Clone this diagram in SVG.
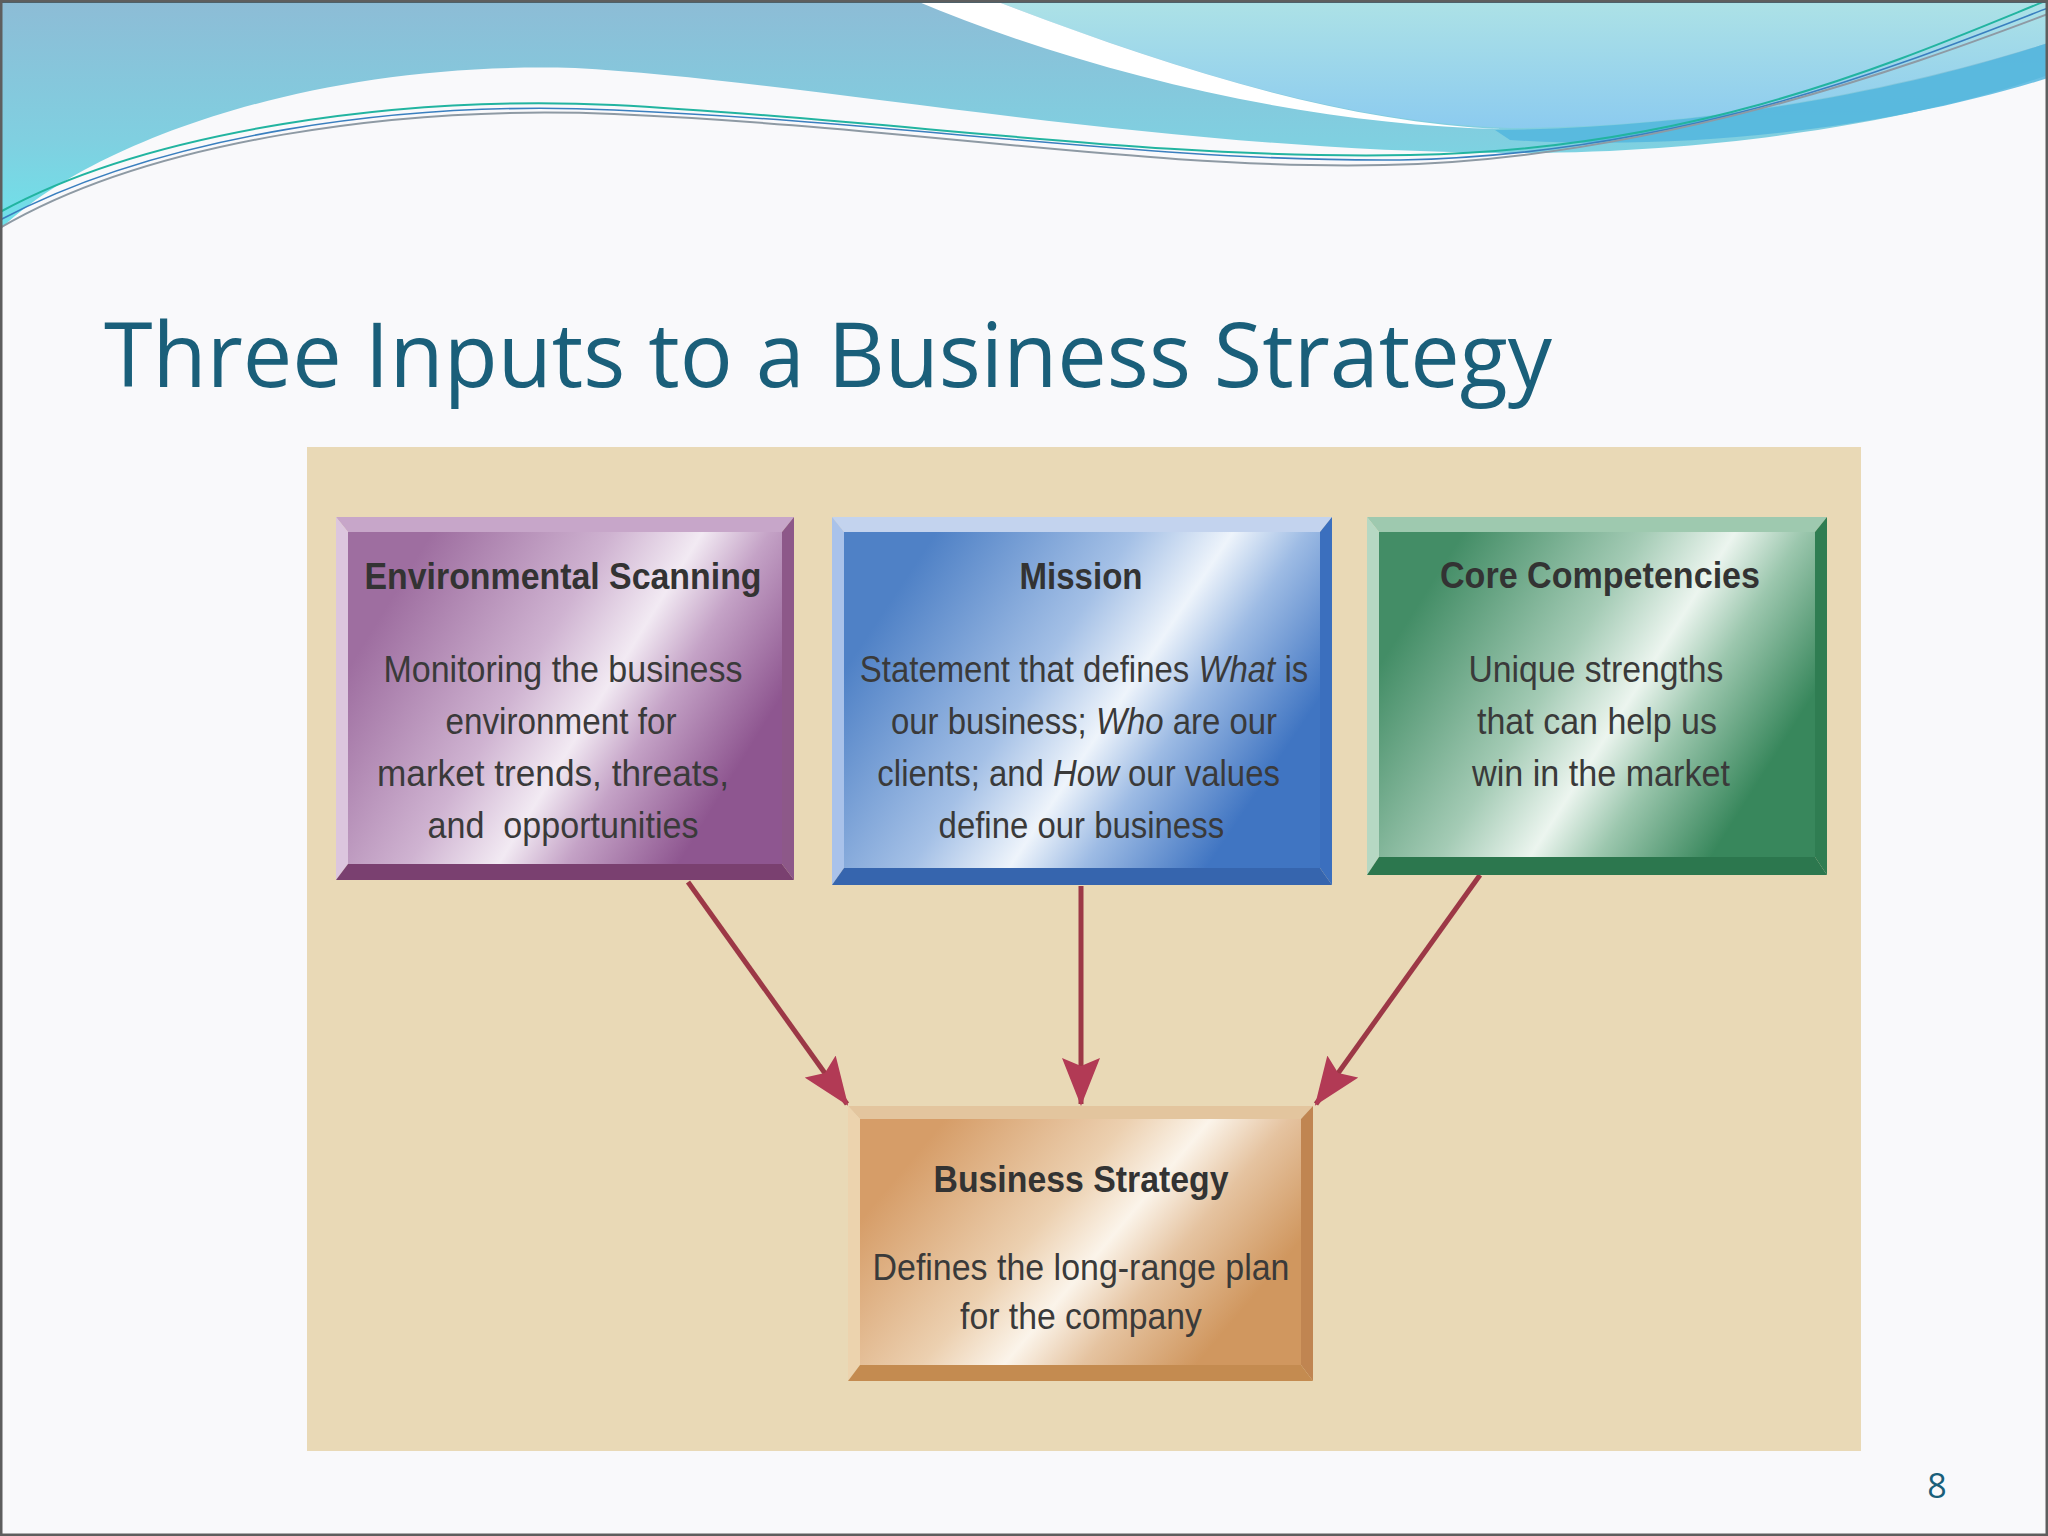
<svg xmlns="http://www.w3.org/2000/svg" width="2048" height="1536" viewBox="0 0 2048 1536">
<defs>
<linearGradient id="gA" x1="0" y1="0" x2="0" y2="1">
<stop offset="0" stop-color="#8dbcd6"/><stop offset="0.6" stop-color="#80cfe0"/><stop offset="1" stop-color="#6ee2ea"/>
</linearGradient>
<linearGradient id="gL" x1="0" y1="0" x2="0" y2="1">
<stop offset="0" stop-color="#ade2e6"/><stop offset="1" stop-color="#8ccbef"/>
</linearGradient>
<linearGradient id="gEnv" x1="0.1" y1="0.2" x2="0.95" y2="0.6">
<stop offset="0" stop-color="#9e6ea0"/><stop offset="0.4" stop-color="#cfb3d1"/><stop offset="0.6" stop-color="#f2eaf3"/><stop offset="0.75" stop-color="#c4a2c6"/><stop offset="1" stop-color="#8e5690"/>
</linearGradient>
<linearGradient id="gMis" x1="0.1" y1="0.2" x2="0.95" y2="0.6">
<stop offset="0" stop-color="#4f81c6"/><stop offset="0.4" stop-color="#a4c0e6"/><stop offset="0.6" stop-color="#eef4fb"/><stop offset="0.75" stop-color="#9dbbe4"/><stop offset="1" stop-color="#4075c2"/>
</linearGradient>
<linearGradient id="gCore" x1="0.1" y1="0.2" x2="0.95" y2="0.6">
<stop offset="0" stop-color="#438d66"/><stop offset="0.4" stop-color="#a4cbb5"/><stop offset="0.6" stop-color="#ecf5ef"/><stop offset="0.75" stop-color="#9cc7ae"/><stop offset="1" stop-color="#38875c"/>
</linearGradient>
<linearGradient id="gBS" x1="0.1" y1="0.2" x2="0.95" y2="0.6">
<stop offset="0" stop-color="#d69d68"/><stop offset="0.4" stop-color="#ecd0b0"/><stop offset="0.58" stop-color="#fbf4ea"/><stop offset="0.75" stop-color="#e5c3a0"/><stop offset="1" stop-color="#d0975f"/>
</linearGradient>
<marker id="ah" markerUnits="userSpaceOnUse" viewBox="0 0 48 38" refX="46" refY="19" markerWidth="48" markerHeight="38" orient="auto">
<path d="M0,0 L48,19 L0,38 L8,19 Z" fill="#b23a55"/>
</marker>
<style>
.bt{font-family:"Liberation Sans",Arial,sans-serif;font-weight:bold;font-size:37px;fill:#333;text-anchor:middle}
.bb{font-family:"Liberation Sans",Arial,sans-serif;font-size:37px;fill:#3a3a3a;text-anchor:middle}
.it{font-style:italic}
.conn{stroke:#9c3846;stroke-width:5;fill:none;marker-end:url(#ah)}
</style>
</defs>
<rect width="2048" height="1536" fill="#f9f9fb"/>
<!-- top decoration -->
<path d="M0,230 C80,150 300,60 575,68 C800,80 1150,150 1500,153 C1750,155 1950,110 2048,75 V0 H0 Z" fill="url(#gA)"/>
<path d="M993,0 C1150,60 1330,122 1510,128 C1700,128 1900,90 2048,43 V0 Z" fill="url(#gL)"/>
<path d="M1495,130 C1700,128 1900,92 2048,43 V78 C1900,125 1700,152 1510,140 Z" fill="#52b6de" opacity="0.85"/>
<path d="M914,0 C1080,70 1300,125 1502,129 C1330,122 1150,60 993,0 Z" fill="#ffffff"/>
<path d="M0,212 C150,130 400,95 614,105 C900,120 1150,160 1410,155 C1700,150 1900,60 2048,0" fill="none" stroke="#22b4a0" stroke-width="2"/>
<path d="M0,220 C160,135 400,100 614,110 C900,122 1150,162 1400,160 C1680,155 1900,65 2048,8" fill="none" stroke="#3a7fbf" stroke-width="1.6"/>
<path d="M0,228 C150,140 400,105 614,114 C900,126 1150,170 1384,165 C1650,160 1900,70 2048,14" fill="none" stroke="#8e9aa4" stroke-width="2"/>
<rect x="0" y="0" width="2048" height="3" fill="#3f6576"/>
<!-- title -->
<text x="104" y="387" font-family="'Open Sans','Noto Sans',sans-serif" font-size="90" fill="#1a5f7a" textLength="1448" lengthAdjust="spacingAndGlyphs">Three Inputs to a Business Strategy</text>
<!-- panel -->
<rect x="307" y="447" width="1554" height="1004" fill="#e9d9b6"/>
<!-- connectors -->
<g id="connectors">
<line class="conn" x1="688" y1="882" x2="847" y2="1104"/>
<line class="conn" x1="1081" y1="886" x2="1081" y2="1104"/>
<line class="conn" x1="1480" y1="875" x2="1316" y2="1104"/>
</g>
<!-- Environmental Scanning -->
<g id="node-env">
<polygon points="336,517 794,517 782,532 348,532" fill="#c7a6c9"/>
<polygon points="336,517 348,532 348,864 336,880" fill="#dcc6de"/>
<polygon points="794,517 794,880 782,864 782,532" fill="#8d5889"/>
<polygon points="336,880 348,864 782,864 794,880" fill="#7a4070"/>
<rect x="348" y="532" width="434" height="332" fill="url(#gEnv)"/>
<text class="bt" x="563" y="589" textLength="397" lengthAdjust="spacingAndGlyphs">Environmental Scanning</text>
<text class="bb" x="563" y="682" textLength="359" lengthAdjust="spacingAndGlyphs">Monitoring the business</text>
<text class="bb" x="561" y="734" textLength="231" lengthAdjust="spacingAndGlyphs">environment for</text>
<text class="bb" x="553" y="786" textLength="352" lengthAdjust="spacingAndGlyphs">market trends, threats,</text>
<text class="bb" x="563" y="838" textLength="271" lengthAdjust="spacingAndGlyphs" xml:space="preserve">and  opportunities</text>
</g>
<!-- Mission -->
<g id="node-mission">
<polygon points="832,517 1332,517 1320,532 844,532" fill="#c3d3ee"/>
<polygon points="832,517 844,532 844,868 832,885" fill="#a9c2ea"/>
<polygon points="1332,517 1332,885 1320,868 1320,532" fill="#3b6fbe"/>
<polygon points="832,885 844,868 1320,868 1332,885" fill="#3665ae"/>
<rect x="844" y="532" width="476" height="336" fill="url(#gMis)"/>
<text class="bt" x="1081" y="589" textLength="123" lengthAdjust="spacingAndGlyphs">Mission</text>
<g transform="translate(1084,0) scale(0.89,1)">
<text class="bb" x="0" y="682">Statement that defines <tspan class="it">What</tspan> is</text>
<text class="bb" x="0" y="734">our business; <tspan class="it">Who</tspan> are our</text>
<text class="bb" x="-6" y="786">clients; and <tspan class="it">How</tspan> our values</text>
<text class="bb" x="-3" y="838">define our business</text>
</g>
</g>
<!-- Core Competencies -->
<g id="node-core">
<polygon points="1367,517 1827,517 1815,532 1379,532" fill="#9ec9af"/>
<polygon points="1367,517 1379,532 1379,857 1367,875" fill="#b6d8c3"/>
<polygon points="1827,517 1827,875 1815,857 1815,532" fill="#2f7d52"/>
<polygon points="1367,875 1379,857 1815,857 1827,875" fill="#2c774e"/>
<rect x="1379" y="532" width="436" height="325" fill="url(#gCore)"/>
<text class="bt" x="1600" y="588" textLength="320" lengthAdjust="spacingAndGlyphs">Core Competencies</text>
<text class="bb" x="1596" y="682" textLength="255" lengthAdjust="spacingAndGlyphs">Unique strengths</text>
<text class="bb" x="1597" y="734" textLength="240" lengthAdjust="spacingAndGlyphs">that can help us</text>
<text class="bb" x="1601" y="786" textLength="258" lengthAdjust="spacingAndGlyphs">win in the market</text>
</g>
<!-- Business Strategy -->
<g id="node-strategy">
<polygon points="848,1106 1313,1106 1301,1119 860,1119" fill="#e3c59e"/>
<polygon points="848,1106 860,1119 860,1365 848,1381" fill="#ecd3ae"/>
<polygon points="1313,1106 1313,1381 1301,1365 1301,1119" fill="#c08551"/>
<polygon points="848,1381 860,1365 1301,1365 1313,1381" fill="#c48b50"/>
<rect x="860" y="1119" width="441" height="246" fill="url(#gBS)"/>
<text class="bt" x="1081" y="1192" textLength="295" lengthAdjust="spacingAndGlyphs">Business Strategy</text>
<text class="bb" x="1081" y="1280" textLength="417" lengthAdjust="spacingAndGlyphs">Defines the long-range plan</text>
<text class="bb" x="1081" y="1329" textLength="242" lengthAdjust="spacingAndGlyphs">for the company</text>
</g>
<text x="1937" y="1498" font-family="'Open Sans','Noto Sans',sans-serif" font-size="34" fill="#1a5f7a" text-anchor="middle">8</text>
<rect x="1" y="1" width="2046" height="1534" fill="none" stroke="#5e5e5e" stroke-width="3"/>
</svg>
